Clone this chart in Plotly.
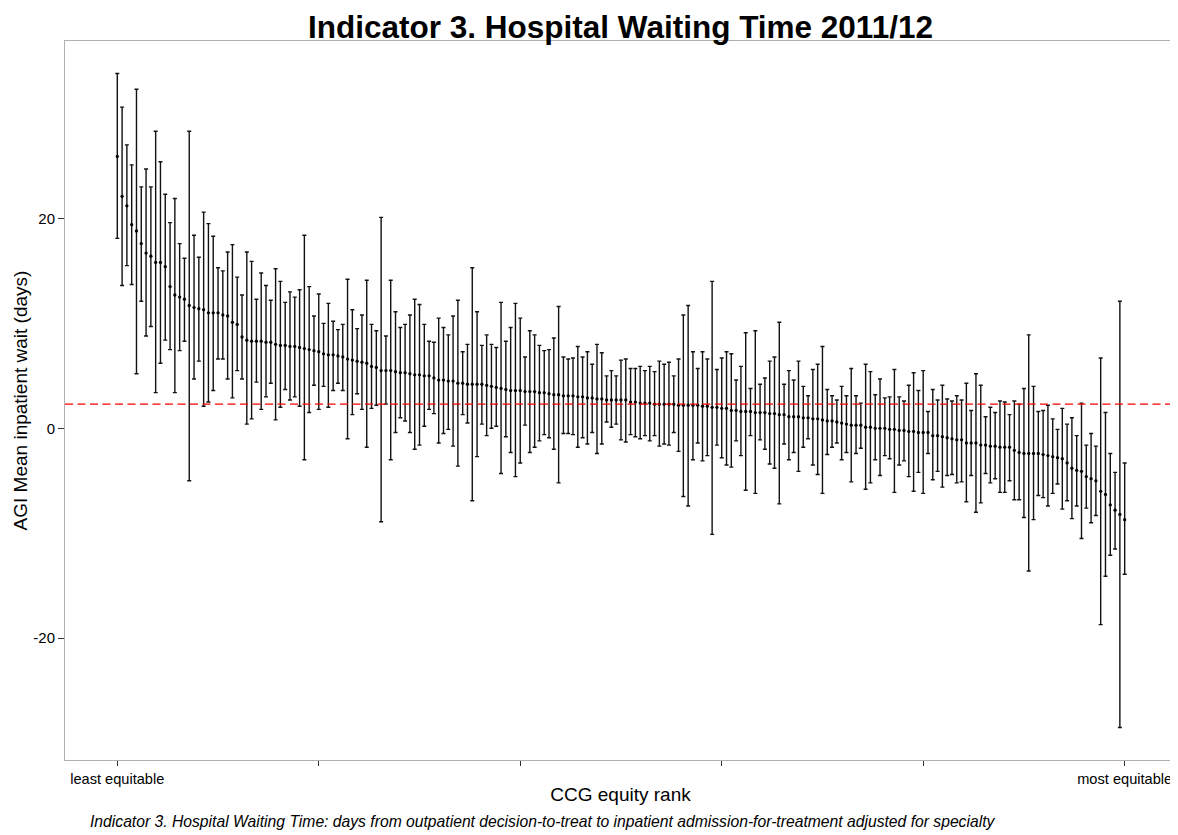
import plotly.graph_objects as go

# CCG equity rank (1 = least equitable, 211 = most equitable)
ranks = list(range(1, 212))

mean_wait = [
    25.9, 22.1, 21.2, 19.4, 18.8, 17.6, 16.7, 16.4, 15.8, 15.8,
    15.4, 13.5, 12.7, 12.5, 12.3, 11.7, 11.5, 11.4, 11.3, 11.0,
    11.0, 11.0, 10.8, 10.7, 10.1, 9.9, 8.7, 8.4, 8.3, 8.3,
    8.3, 8.2, 8.2, 8.0, 7.9, 7.9, 7.8, 7.8, 7.7, 7.6,
    7.5, 7.4, 7.3, 7.1, 7.0, 7.0, 6.9, 6.8, 6.6, 6.5,
    6.4, 6.3, 6.2, 5.9, 5.8, 5.5, 5.5, 5.5, 5.4, 5.3,
    5.3, 5.2, 5.1, 5.1, 5.0, 5.0, 4.8, 4.6, 4.6, 4.5,
    4.5, 4.3, 4.3, 4.2, 4.2, 4.2, 4.2, 4.1, 4.0, 3.9,
    3.8, 3.7, 3.6, 3.6, 3.6, 3.5, 3.5, 3.5, 3.4, 3.4,
    3.3, 3.2, 3.2, 3.1, 3.1, 3.1, 3.0, 3.0, 2.9, 2.9,
    2.8, 2.8, 2.7, 2.7, 2.7, 2.7, 2.7, 2.5, 2.5, 2.4,
    2.4, 2.4, 2.3, 2.3, 2.3, 2.3, 2.3, 2.2, 2.2, 2.2,
    2.2, 2.2, 2.1, 2.1, 2.0, 2.0, 1.9, 1.9, 1.7, 1.7,
    1.6, 1.6, 1.6, 1.5, 1.5, 1.5, 1.4, 1.4, 1.3, 1.3,
    1.1, 1.1, 1.1, 1.0, 1.0, 0.9, 0.9, 0.8, 0.7, 0.7,
    0.6, 0.5, 0.4, 0.3, 0.3, 0.3, 0.1, 0.1, 0.0, 0.0,
    0.0, -0.1, -0.1, -0.2, -0.2, -0.3, -0.3, -0.4, -0.4, -0.4,
    -0.7, -0.7, -0.8, -0.9, -1.0, -1.1, -1.1, -1.4, -1.4, -1.4,
    -1.6, -1.6, -1.7, -1.7, -1.8, -1.8, -1.8, -2.1, -2.3, -2.4,
    -2.4, -2.4, -2.4, -2.5, -2.6, -2.7, -2.8, -2.9, -3.3, -3.8,
    -4.0, -4.1, -4.6, -4.8, -5.0, -6.0, -6.3, -7.3, -7.8, -8.2,
    -8.7,
]

lower_ci = [
    18.1, 13.6, 15.5, 13.7, 5.2, 12.1, 8.8, 9.7, 3.4, 6.2,
    8.4, 7.5, 3.4, 7.4, 8.3, -5.0, 4.7, 6.4, 2.1, 2.5,
    3.6, 6.6, 6.6, 4.7, 2.9, 5.5, 4.7, 0.4, 0.9, 4.4,
    1.8, 3.0, 4.3, 0.8, 2.0, 3.7, 2.7, 3.0, 2.1, -3.0,
    1.5, 4.1, 1.8, 4.0, 2.0, 3.6, 4.3, 3.6, -1.0, 1.3,
    3.3, 1.8, -1.8, 1.9, 2.2, -8.9, 2.3, -3.0, -0.4, 1.0,
    0.7, -0.4, -2.0, -1.6, 0.2, 1.8, 1.4, -1.4, -0.5, -0.1,
    -1.7, -3.6, 1.3, 0.5, -6.9, -2.7, 0.4, -0.7, 0.0, 0.2,
    -4.3, -0.8, -2.3, -4.6, -3.3, 0.3, -2.3, -1.8, -1.2, -0.6,
    -0.9, -2.0, -5.2, -0.5, -0.5, -0.6, -1.8, -0.9, -1.5, -0.4,
    -2.4, -1.5, 0.6, 0.1, 0.4, -1.1, -1.3, -0.6, -0.8, -1.0,
    -0.7, -1.2, -0.7, -1.7, -1.5, -1.6, -0.4, -2.2, -6.5, -7.4,
    -3.0, -1.4, -3.1, -2.6, -10.1, -1.6, -2.8, -3.5, -3.7, -1.2,
    -2.6, -5.9, -0.7, -6.2, -1.1, -2.0, -3.4, -3.8, -7.2, -1.5,
    -3.0, -2.3, -4.1, -1.8, -1.0, -3.5, -4.4, -6.2, -2.5, -1.8,
    -1.4, -3.0, -2.3, -5.1, -2.4, -1.9, -5.8, -5.2, -3.0, -4.5,
    -2.6, -2.9, -6.1, -3.5, -3.1, -4.6, -6.0, -4.2, -6.2, -2.4,
    -4.9, -4.1, -5.6, -4.5, -4.4, -5.2, -5.1, -7.0, -4.5, -8.0,
    -7.1, -4.3, -5.2, -4.8, -6.1, -6.1, -5.0, -6.8, -6.8, -8.5,
    -13.6, -8.7, -6.4, -6.6, -7.4, -6.2, -5.3, -7.7, -6.9, -8.6,
    -7.4, -10.5, -7.6, -9.0, -8.3, -18.7, -14.1, -12.1, -11.5, -28.5,
    -13.9,
]

upper_ci = [
    33.8, 30.6, 27.0, 25.1, 32.3, 23.0, 24.7, 23.0, 28.3, 25.4,
    22.3, 19.6, 21.9, 17.6, 16.2, 28.3, 18.4, 16.3, 20.6, 19.5,
    18.3, 15.3, 15.0, 16.8, 17.5, 14.4, 12.7, 16.8, 15.9, 12.3,
    14.8, 13.6, 12.2, 15.2, 14.0, 12.0, 13.0, 12.5, 13.2, 18.4,
    13.5, 10.7, 12.8, 10.0, 11.9, 10.2, 9.4, 9.9, 14.2, 11.3,
    9.5, 10.8, 14.1, 9.9, 9.3, 20.1, 8.8, 14.1, 11.1, 9.6,
    9.9, 10.8, 12.3, 11.8, 9.9, 8.3, 8.2, 10.5, 9.6, 8.9,
    10.7, 12.2, 7.3, 8.0, 15.3, 11.1, 7.9, 8.9, 8.0, 7.7,
    12.0, 8.3, 9.6, 11.9, 10.5, 6.8, 9.3, 8.9, 7.9, 7.4,
    7.5, 8.6, 11.6, 6.8, 6.6, 6.7, 7.8, 6.8, 7.3, 6.1,
    8.0, 7.2, 5.0, 5.5, 5.0, 6.5, 6.6, 5.7, 5.7, 5.9,
    5.5, 5.9, 5.4, 6.4, 6.1, 6.3, 5.0, 6.6, 10.8, 11.7,
    7.3, 5.7, 7.3, 6.6, 14.0, 5.6, 6.7, 7.3, 7.1, 4.6,
    5.9, 9.1, 3.8, 9.3, 4.2, 4.8, 6.4, 6.8, 10.1, 4.2,
    5.5, 4.6, 6.4, 4.0, 3.1, 5.6, 6.1, 7.8, 3.7, 3.1,
    2.7, 4.0, 3.1, 5.7, 3.1, 2.4, 6.1, 5.4, 3.2, 4.7,
    2.9, 3.0, 5.6, 3.0, 2.6, 4.1, 5.3, 3.6, 5.5, 1.6,
    3.7, 2.7, 4.1, 2.8, 2.6, 3.1, 2.7, 4.3, 1.7, 5.2,
    4.1, 1.1, 2.0, 1.5, 2.6, 2.5, 1.3, 2.6, 2.3, 3.8,
    8.9, 4.0, 1.6, 1.7, 2.2, 0.9, -0.1, 1.9, 0.4, 1.0,
    -0.7, 2.4, -1.6, -0.5, -1.7, 6.7, 1.5, -2.4, -4.2, 12.1,
    -3.3,
]

reference_mean = 2.3  # national average (red dashed line)

x_tick_vals = [1, 43, 85, 127, 169, 211]
x_tick_text = ["least equitable", "", "", "", "", "most equitable"]
y_tick_vals = [-20, 0, 20]
y_tick_text = ["-20", "0", "20"]

err_plus = [u - m for u, m in zip(upper_ci, mean_wait)]
err_minus = [m - l for m, l in zip(mean_wait, lower_ci)]

FONT = "Liberation Sans, Arial, sans-serif"

# page body has an 8px default margin; figure sized to fit the 1178x835 window
W, H = 1170, 827
ML, MR, MT, MB = 57, 2, 33, 75
PH = H - MT - MB  # plot height in px
PW = W - ML - MR

fig = go.Figure()
fig.add_trace(go.Scatter(
    x=ranks, y=mean_wait, mode="markers",
    marker=dict(color="black", size=3.3),
    error_y=dict(type="data", symmetric=False, array=err_plus, arrayminus=err_minus,
                 color="#111111", thickness=1.4, width=2),
    showlegend=False, hoverinfo="x+y",
))

fig.add_shape(type="line", xref="paper", x0=0, x1=1, yref="y",
              y0=reference_mean, y1=reference_mean,
              line=dict(color="#ff0000", width=1.4, dash="8px,4.5px"))

fig.update_layout(
    width=W, height=H,
    margin=dict(l=ML, r=MR, t=MT, b=MB),
    paper_bgcolor="white", plot_bgcolor="white",
    font=dict(family=FONT, color="black"),
    title=dict(text="<b>Indicator 3. Hospital Waiting Time 2011/12</b>",
               x=0.5, xref="paper", xanchor="center",
               y=1 - 19 / H, yref="container", yanchor="middle",
               font=dict(size=31.5, family=FONT, color="black")),
    xaxis=dict(range=[-9.9, 221.7], tickmode="array", tickvals=x_tick_vals,
               ticktext=x_tick_text, ticks="outside", ticklen=5, tickcolor="#333333",
               tickfont=dict(size=14.6, family=FONT, color="black"),
               showgrid=False, zeroline=False, showline=True, linecolor="#b0b0b0",
               linewidth=1, mirror=True, automargin=False,
               title=dict(text="CCG equity rank", font=dict(size=19, family=FONT),
                          standoff=2)),
    yaxis=dict(range=[-31.6, 36.9], tickmode="array", tickvals=y_tick_vals,
               ticktext=y_tick_text, ticks="outside", ticklen=6, tickcolor="#333333",
               tickfont=dict(size=15, family=FONT, color="black"),
               showgrid=False, zeroline=False, showline=True, linecolor="#b0b0b0",
               linewidth=1, mirror=True, automargin=False,
               title=dict(text="AGI Mean inpatient wait (days)",
                          font=dict(size=19, family=FONT), standoff=0)),
    annotations=[dict(
        text="<i>Indicator 3. Hospital Waiting Time: days from outpatient decision-to-treat "
             "to inpatient admission-for-treatment adjusted for specialty</i>",
        xref="paper", yref="paper", x=(87.5 - 65) / PW, y=-(821.7 - 760) / PH,
        xanchor="left", yanchor="middle", showarrow=False,
        font=dict(size=15.7, family=FONT, color="black"))],
)

fig.write_html("out.html")
